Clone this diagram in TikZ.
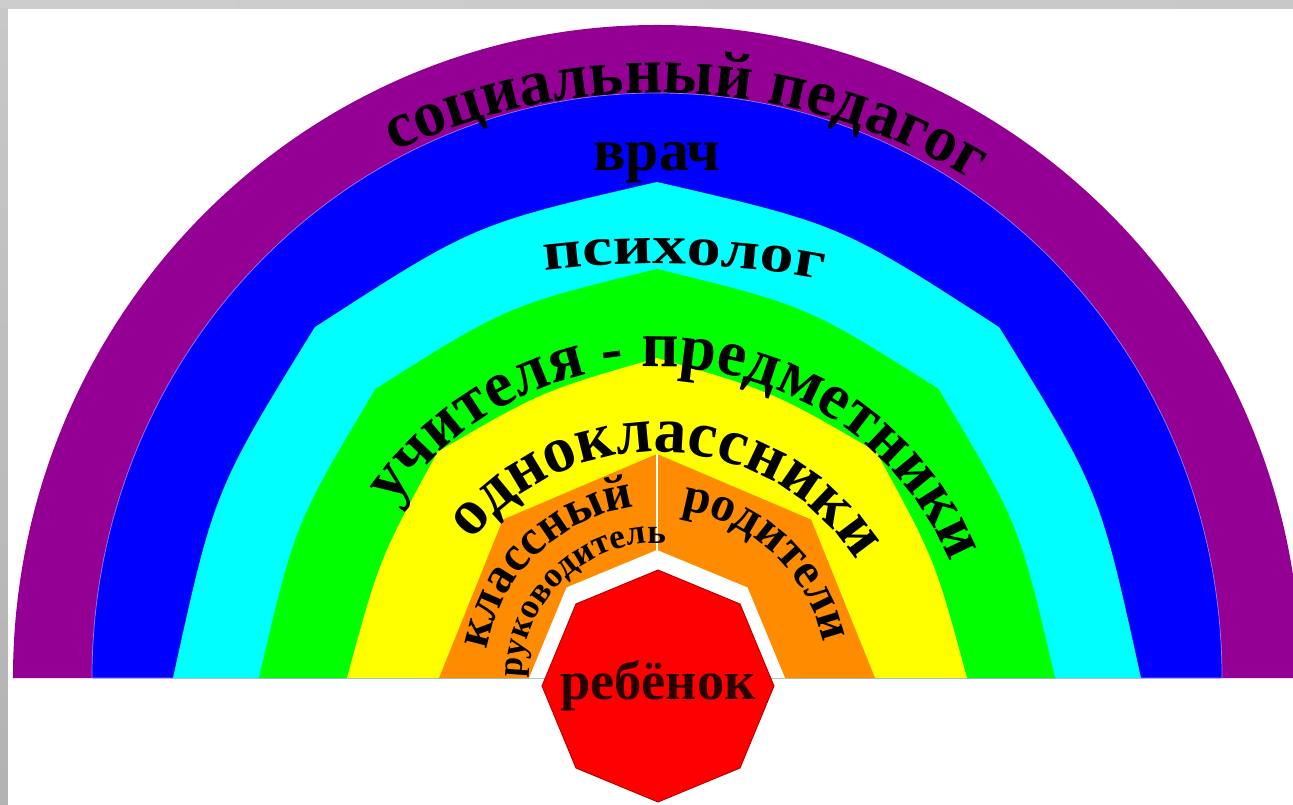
\documentclass[tikz,border=0pt]{standalone}
\usepackage{fontspec}
\setmainfont{Liberation Serif}
\newfontfamily\wideserif[FakeStretch=1.25]{Liberation Serif}
\usetikzlibrary{calc,decorations.text}
\definecolor{Violet}{HTML}{930093}
\definecolor{DeepBlue}{HTML}{0000FF}
\definecolor{Aqua}{HTML}{00FFFF}
\definecolor{Lime}{HTML}{00FF00}
\definecolor{Sun}{HTML}{FFFF00}
\definecolor{Tangerine}{HTML}{FF8C00}
\definecolor{Scarlet}{HTML}{FF0000}
\definecolor{FrameGray}{HTML}{C8C8C8}
\newcommand\bigband{\fontsize{37}{40}\selectfont\bfseries}
\newcommand\midband{\fontsize{28}{30}\selectfont\bfseries}
\newcommand\smallband{\fontsize{20}{22}\selectfont\bfseries}
% half octagon with bulging sides: colour, x radius, y radius, bulge
\newcommand\bandshape[4]{%
  \pgfmathsetmacro\bandkx{#2*#4}\pgfmathsetmacro\bandky{#3*#4}%
  \fill[#1] (0:#2 and #3) \foreach \a in {0,45,90,135} {
    .. controls (\a+22.5:\bandkx\space and \bandky) .. (\a+45:#2 and #3) } -- cycle;}

\begin{document}
\begin{tikzpicture}[x=0.02cm, y=0.02cm,
    label/.style={text=black, inner sep=0pt},
    along/.style={decorate, decoration={text along path, text align=center, text={#1}}}
  ]
  \useasboundingbox (-657,-126) rectangle (636,678);
  \fill[white] (-657,-126) rectangle (636,678);

  \begin{scope}
    \clip (-657,-126) rectangle (636,678);
    % rainbow bands, outer to inner
    \fill[Violet] (0:644 and 653) arc[start angle=0, end angle=180, x radius=644, y radius=653] -- cycle;
    \fill[DeepBlue, draw={rgb,255:red,150;green,120;blue,255}, line width=0.4pt]
      (0:565 and 585) arc[start angle=0, end angle=180, x radius=565, y radius=585] -- cycle;
    \bandshape{Aqua}{484}{496}{0.99}
    \bandshape{Lime}{398}{409}{0.985}
    \bandshape{Sun}{310}{320}{0.97}
    \bandshape{Tangerine}{218}{224}{0.924}
    \bandshape{white}{128}{128}{0.924}
    \draw[white, line width=0.8pt] (0,224) -- (0,128);
  \end{scope}

  % frame
  \shade[left color=FrameGray!90, middle color=gray!20, right color=FrameGray] (-657,669) rectangle (636,678);
  \shade[top color=FrameGray, bottom color=gray!60] (-657,-126) rectangle (-649,669);

  % band texts
  \path[along={|\bigband|социальный педагог}]
    (157:600 and 585) arc[start angle=157, end angle=17, x radius=600, y radius=585];
  \node[label, font=\fontsize{34}{36}\selectfont\bfseries, anchor=base] (doctor) at (0,507) {врач};
  \path[along={|\wideserif\fontsize{31}{34}\selectfont\bfseries|психолог}]
    ($(0,-486)+(102.3:900)$) arc[start angle=102.3, end angle=74.3, radius=900];
  \path[along={|\bigband|учителя - предметники}]
    (174:316 and 311) arc[start angle=174, end angle=-6, x radius=316, y radius=311];
  \path[along={|\bigband|одноклассники}]
    (172:233 and 226) arc[start angle=172, end angle=2, x radius=233, y radius=226];
  \path[along={|\midband|классный}]
    (182:172 and 172) arc[start angle=182, end angle=86, radius=172];
  \path[along={|\smallband|руководитель}]
    (190:135 and 135) arc[start angle=190, end angle=76, radius=135];
  \path[along={|\midband|родители}]
    (96:170 and 170) arc[start angle=96, end angle=-2, radius=170];

  % centre
  \filldraw[shift={(1,-8)}, fill=Scarlet, draw=red!70!black, line width=0.5pt]
    (90:116) \foreach \a in {135,180,...,405} { -- (\a:116) } -- cycle;
  \node[label, font=\fontsize{31}{33}\selectfont\bfseries, text={rgb,255:red,40;green,0;blue,0}] (child) at (1,-8) {ребёнок};
\end{tikzpicture}
\end{document}
